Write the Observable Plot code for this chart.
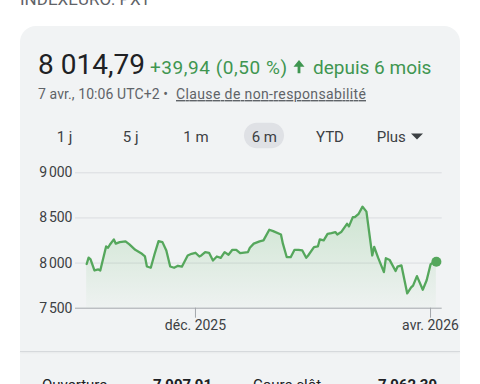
<!DOCTYPE html>
<html><head><meta charset="utf-8">
<script src="https://cdn.jsdelivr.net/npm/d3@7"></script>
<script src="https://cdn.jsdelivr.net/npm/@observablehq/plot@0.6"></script>
<style>
html,body{margin:0;padding:0;background:#fff;width:480px;height:384px;overflow:hidden;font-family:Roboto,"Noto Sans",sans-serif;}
#page{position:relative;width:480px;height:384px;}
.card{position:absolute;left:20px;top:26px;width:440px;height:420px;background:#f1f3f4;border-radius:16px;}
.sep{position:absolute;left:20px;top:351px;width:440px;height:1px;background:#d6d9dc;box-shadow:0 1px 2px rgba(0,0,0,0.06);}
#overlay{position:absolute;left:0;top:0;}
#chart{position:absolute;left:0;top:160px;}
</style></head>
<body><div id="page">
<div class="card"></div>
<div class="sep"></div>
<svg id="overlay" width="480" height="384" font-family="Roboto, 'Noto Sans', sans-serif">
  <text x="20" y="5" font-size="17" fill="#5f6368">INDEXEURO: PXT</text>
  <text x="38" y="73.5" font-size="28" fill="#202124">8 014,79</text>
  <text x="150" y="73.5" font-size="19" fill="#3f9650" textLength="137" lengthAdjust="spacing">+39,94 (0,50 %)</text>
  <path d="M299 60 L293.5 66.8 L297.6 66.8 L297.6 73.2 L300.4 73.2 L300.4 66.8 L304.5 66.8 Z" fill="#3f9650"/>
  <text x="313" y="73.5" font-size="19" fill="#3f9650">depuis 6 mois</text>
  <text x="38" y="99" font-size="14" fill="#5f6368" textLength="130" lengthAdjust="spacing">7 avr., 10:06 UTC+2 •</text>
  <text x="176" y="99" font-size="14" fill="#5f6368" text-decoration="underline" textLength="190" lengthAdjust="spacing">Clause de non-responsabilité</text>
  <rect x="244" y="122.7" width="40" height="25.6" rx="12.8" fill="#dfe1e5"/>
  <g font-size="15" fill="#3c4043" font-weight="400" text-anchor="middle">
    <text x="64.5" y="142">1 j</text>
    <text x="130.7" y="142">5 j</text>
    <text x="196" y="142">1 m</text>
    <text x="264.3" y="142">6 m</text>
    <text x="330" y="142">YTD</text>
    <text x="376.7" y="142" text-anchor="start">Plus</text>
  </g>
  <path d="M411 133.5 L423 133.5 L417 139.5 Z" fill="#3c4043"/>
  <g font-size="15" fill="#202124">
    <text x="42" y="390">Ouverture</text>
    <text x="153" y="390" font-weight="700">7 997,91</text>
    <text x="253" y="390">Cours clôt.</text>
    <text x="378" y="390" font-weight="700">7 962,39</text>
  </g>
</svg>
<div id="chart"></div>
</div>
<script>
const dates = [
  "2025-10-06","2025-10-07","2025-10-08","2025-10-10","2025-10-12","2025-10-13","2025-10-16","2025-10-17","2025-10-18","2025-10-20",
  "2025-10-21","2025-10-23","2025-10-26","2025-10-28","2025-10-31","2025-11-03","2025-11-05","2025-11-06","2025-11-08","2025-11-10",
  "2025-11-12","2025-11-14","2025-11-16","2025-11-18","2025-11-20","2025-11-22","2025-11-24","2025-11-27","2025-11-29","2025-12-01",
  "2025-12-03","2025-12-04","2025-12-06","2025-12-08","2025-12-10","2025-12-12","2025-12-14","2025-12-16","2025-12-18","2025-12-20",
  "2025-12-22","2025-12-24","2025-12-28","2025-12-29","2025-12-31","2026-01-03","2026-01-05","2026-01-08","2026-01-10","2026-01-14",
  "2026-01-15","2026-01-17","2026-01-19","2026-01-21","2026-01-23","2026-01-25","2026-01-27","2026-01-28","2026-01-31","2026-02-02",
  "2026-02-03","2026-02-05","2026-02-07","2026-02-09","2026-02-11","2026-02-12","2026-02-14","2026-02-17","2026-02-18","2026-02-20",
  "2026-02-21","2026-02-23","2026-02-25","2026-02-27","2026-03-02","2026-03-03","2026-03-05","2026-03-08","2026-03-09","2026-03-11",
  "2026-03-14","2026-03-15","2026-03-17","2026-03-20","2026-03-22","2026-03-23","2026-03-25","2026-03-28","2026-03-30","2026-04-01",
  "2026-04-02","2026-04-04"
];
const values = [
  7990,8060,8040,7918,7930,7918,8184,8170,8206,8262,
  8215,8232,8240,8206,8147,8110,8073,7962,7948,8103,
  8243,8232,8140,7962,7948,7970,7960,8084,8103,8114,
  8073,8084,8121,8114,8029,8073,8058,8121,8092,8147,
  8147,8110,8121,8170,8215,8240,8251,8369,8354,8317,
  8215,8065,8065,8147,8147,8140,8058,8084,8176,8184,
  8262,8251,8324,8332,8343,8317,8343,8435,8406,8509,
  8509,8546,8625,8570,8084,8180,8060,7900,8054,8033,
  7912,7960,7975,7664,7730,7750,7855,7705,7810,7985,
  8000,8014.79
];
const yTicks = [7500, 8000, 8500, 9000];
const yTickLabels = ["7\u202f500", "8\u202f000", "8\u202f500", "9\u202f000"];
const xTickDates = ["2025-12-01", "2026-04-01"];
const xTickLabels = ["déc. 2025", "avr. 2026"];
const xDomain = ["2025-09-30T06:00:00Z", "2026-04-07T00:00:00Z"];

const green = "#55a75c";
const data = dates.map((d, i) => ({date: new Date(d + "T00:00:00Z"), value: values[i]}));
const xTicks = xTickDates.map(d => new Date(d + "T00:00:00Z"));

const grad = () => {
  const defs = d3.create("svg:defs");
  const lg = defs.append("linearGradient").attr("id", "areaGrad")
    .attr("x1", 0).attr("x2", 0).attr("y1", 0).attr("y2", 1);
  lg.append("stop").attr("offset", "0%").attr("stop-color", "#4caf50").attr("stop-opacity", 0.22);
  lg.append("stop").attr("offset", "100%").attr("stop-color", "#4caf50").attr("stop-opacity", 0.02);
  return defs.node();
};

const chart = Plot.plot({
  width: 480, height: 180,
  marginLeft: 75, marginRight: 38.3, marginTop: 12.3, marginBottom: 32.3,
  x: {type: "utc", domain: xDomain.map(d => new Date(d)), label: null},
  y: {domain: [7500, 9000], label: null},
  style: {fontFamily: "Roboto, 'Noto Sans', sans-serif", fontSize: "14px", color: "#3c4043", background: "transparent", overflow: "visible"},
  marks: [
    grad,
    Plot.ruleY(yTicks.slice(1), {stroke: "#dadce0", strokeWidth: 1}),
    Plot.areaY(data, {x: "date", y1: yTicks[0], y2: "value", fill: "url(#areaGrad)"}),
    Plot.ruleY([yTicks[0]], {stroke: "#a3a7ab", strokeWidth: 1}),
    Plot.lineY(data, {x: "date", y: "value", stroke: green, strokeWidth: 2.3, strokeLinejoin: "round", strokeLinecap: "round"}),
    Plot.dot([data[data.length - 1]], {x: "date", y: "value", r: 5, fill: green}),
    Plot.axisY({ticks: yTicks, tickSize: 0, tickPadding: 3, label: null, fill: "#3c4043",
      tickFormat: v => yTickLabels[yTicks.indexOf(v)]}),
    Plot.axisX({ticks: xTicks, tickSize: 10, tickPadding: 2, label: null, stroke: "#a3a7ab", fill: "#3c4043",
      tickFormat: d => xTickLabels[xTicks.findIndex(t => +t === +d)]})
  ]
});
document.getElementById("chart").appendChild(chart);
</script>
</body></html>
